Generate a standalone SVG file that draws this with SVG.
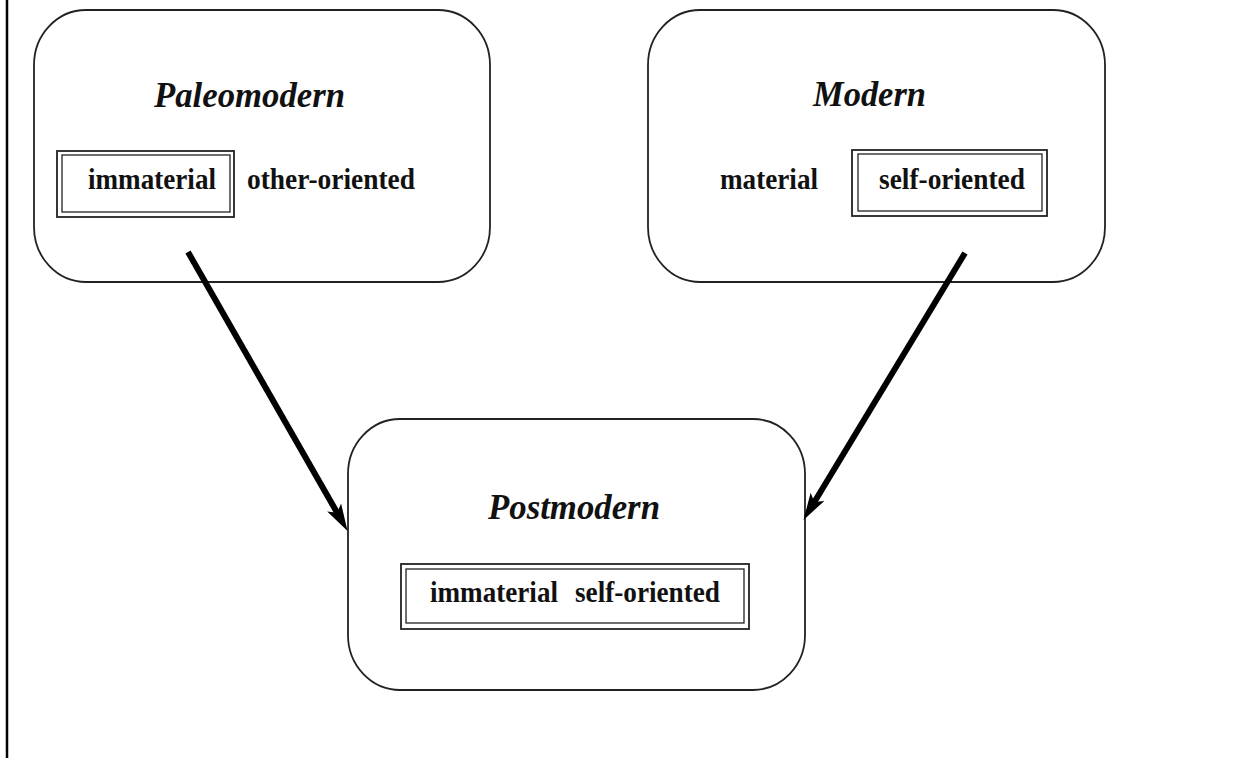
<svg xmlns="http://www.w3.org/2000/svg" width="1243" height="758" viewBox="0 0 1243 758">
<style>
.node{fill:#fff;stroke:#222;stroke-width:1.8}
.dbl-o{fill:none;stroke:#222;stroke-width:1.8}
.dbl-i{fill:none;stroke:#222;stroke-width:1.3}
.title{font-family:"Liberation Serif","Times New Roman",serif;font-weight:bold;font-style:italic;font-size:35px;fill:#111}
.lbl{font-family:"Liberation Serif","Times New Roman",serif;font-weight:bold;font-size:29px;fill:#111}
.conn{stroke:#000;stroke-width:6;fill:none}
</style>
<defs>
<marker id="ah" markerUnits="userSpaceOnUse" markerWidth="30" markerHeight="20" refX="11" refY="0" orient="auto" overflow="visible">
<path d="M27,0 L0,-8 L6,0 L0,8 Z" fill="#000"/>
</marker>
</defs>
<rect width="1243" height="758" fill="#fff"/>
<line x1="7" y1="0" x2="7" y2="758" stroke="#000" stroke-width="2.5"/>
<g id="paleomodern">
<rect class="node" x="34" y="10" width="456" height="272" rx="52" ry="55"/>
<text class="title" x="154" y="107" textLength="191" lengthAdjust="spacingAndGlyphs">Paleomodern</text>
<rect class="dbl-o" x="57" y="151" width="177" height="66"/>
<rect class="dbl-i" x="62" y="155" width="168" height="57"/>
<text class="lbl" x="88" y="189" textLength="128" lengthAdjust="spacingAndGlyphs">immaterial</text>
<text class="lbl" x="247" y="189" textLength="168" lengthAdjust="spacingAndGlyphs">other-oriented</text>
</g>
<g id="modern">
<rect class="node" x="648" y="10" width="457" height="272" rx="52" ry="55"/>
<text class="title" x="813" y="106" textLength="113" lengthAdjust="spacingAndGlyphs">Modern</text>
<text class="lbl" x="720" y="189" textLength="98" lengthAdjust="spacingAndGlyphs">material</text>
<rect class="dbl-o" x="852" y="150" width="195" height="66"/>
<rect class="dbl-i" x="858" y="154" width="184" height="57"/>
<text class="lbl" x="879" y="189" textLength="146" lengthAdjust="spacingAndGlyphs">self-oriented</text>
</g>
<g id="postmodern">
<rect class="node" x="348" y="419" width="457" height="271" rx="52" ry="55"/>
<text class="title" x="488" y="519" textLength="172" lengthAdjust="spacingAndGlyphs">Postmodern</text>
<rect class="dbl-o" x="401" y="564" width="348" height="65"/>
<rect class="dbl-i" x="406" y="569" width="338" height="54"/>
<text class="lbl" y="602"><tspan x="430" textLength="128" lengthAdjust="spacingAndGlyphs">immaterial</tspan> <tspan x="575" textLength="145" lengthAdjust="spacingAndGlyphs">self-oriented</tspan></text>
</g>
<g id="connectors">
<line class="conn" x1="188" y1="252" x2="339.6" y2="517" marker-end="url(#ah)"/>
<line class="conn" x1="965" y1="253" x2="811.8" y2="506.2" marker-end="url(#ah)"/>
</g>
</svg>
